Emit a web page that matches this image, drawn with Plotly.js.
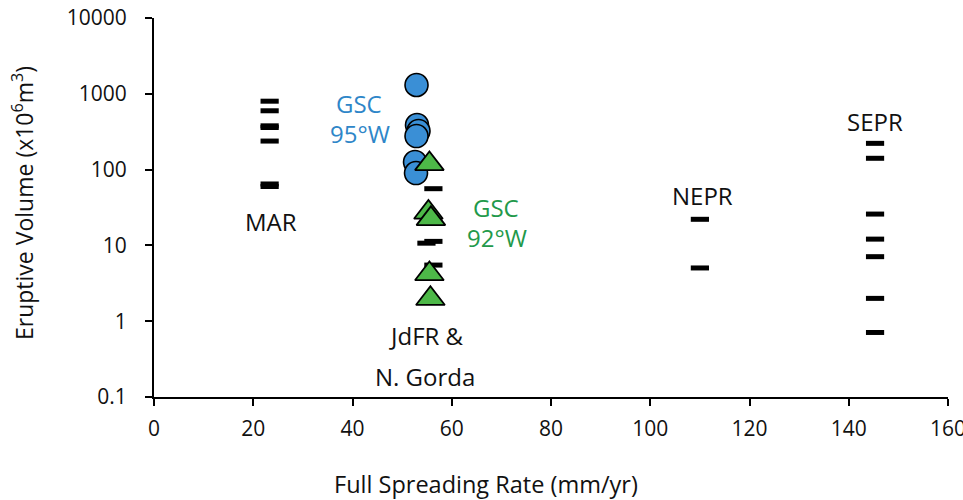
<!DOCTYPE html>
<html>
<head>
<meta charset="utf-8">
<script src="https://cdn.plot.ly/plotly-3.0.1.min.js"></script>
<style>html,body{margin:0;padding:0;background:#fff;}#chart{width:963px;height:500px;}</style>
</head>
<body>
<div id="chart"></div>
<script>
// Mid-Atlantic Ridge
var marX = [23.3, 23.3, 23.3, 23.3, 23.3, 23.3, 23.3];
var marY = [799, 597, 378, 359, 238, 64.6, 59.8];
// Juan de Fuca Ridge & N. Gorda
var jdfX = [56.3, 54.9, 56.3, 56.3];
var jdfY = [56, 10.7, 11.3, 5.5];
// Northern East Pacific Rise
var neprX = [110, 110];
var neprY = [22.1, 5.04];
// Southern East Pacific Rise
var seprX = [145.3, 145.3, 145.3, 145.3, 145.3, 145.3, 145.3];
var seprY = [222, 141, 25.9, 12.1, 7.1, 2.0, 0.71];
// Galapagos Spreading Center 95°W
var gsc95X = [52.9, 53.0, 53.3, 52.9, 52.6, 52.8];
var gsc95Y = [1306, 387, 323, 277, 126, 90];
// Galapagos Spreading Center 92°W
var gsc92X = [55.5, 55.3, 55.8, 55.5, 55.7];
var gsc92Y = [119, 27.2, 22.4, 4.2, 1.98];

var xTickVals = [0, 20, 40, 60, 80, 100, 120, 140, 160];
var yTickVals = [0.1, 1, 10, 100, 1000, 10000];
var yTickText = ['0.1', '1', '10', '100', '1000', '10000'];

var FONT = 'Open Sans, Noto Sans, sans-serif';
var dash = {symbol: 'line-ew', size: 13, color: '#000', line: {color: '#000', width: 5}};

var traces = [
  {x: marX, y: marY, name: 'MAR', mode: 'markers', type: 'scatter', marker: dash},
  {x: jdfX, y: jdfY, name: 'JdFR', mode: 'markers', type: 'scatter', marker: dash},
  {x: neprX, y: neprY, name: 'NEPR', mode: 'markers', type: 'scatter', marker: dash},
  {x: seprX, y: seprY, name: 'SEPR', mode: 'markers', type: 'scatter', marker: dash},
  {x: gsc95X, y: gsc95Y, name: 'GSC 95°W', mode: 'markers', type: 'scatter',
   marker: {symbol: 'circle', size: 23, color: '#3a8fd6', line: {color: '#000', width: 1.6}}},
  {x: gsc92X, y: gsc92Y, name: 'GSC 92°W', mode: 'markers', type: 'scatter',
   marker: {symbol: 'triangle-up', size: 25, color: '#4db848', line: {color: '#000', width: 1.8}}}
];

function lbl(text, x, y, color, size) {
  return {text: text, x: x, y: y, xref: 'paper', yref: 'paper', showarrow: false,
    xanchor: 'center', yanchor: 'middle', font: {family: FONT, size: size || 24, color: color || '#111'}};
}
// paper coords: plot spans px 154..948 (x) and 18..397 (y)
function px(xp) { return (xp - 154) / 794; }
function py(yp) { return (397 - yp) / 379; }

var ytitle = lbl('Eruptive Volume (x10<sup>6</sup>m<sup>3</sup>)', px(23), py(203), '#111', 23);
ytitle.textangle = -90;

var layout = {
  width: 963, height: 500,
  margin: {l: 154, r: 15, t: 18, b: 103},
  paper_bgcolor: '#fff', plot_bgcolor: '#fff',
  showlegend: false,
  font: {family: FONT, size: 21, color: '#111'},
  xaxis: {
    range: [0, 160], tickvals: xTickVals,
    showgrid: false, zeroline: false, showline: true, linewidth: 2, linecolor: '#000',
    ticks: 'outside', ticklen: 7, tickwidth: 2, tickcolor: '#000',
    ticklabelstandoff: 5, ticklabeloverflow: 'allow',
    tickfont: {family: FONT, size: 21, color: '#111'}
  },
  yaxis: {
    type: 'log', range: [-1, 4],
    tickvals: yTickVals, ticktext: yTickText,
    showgrid: false, zeroline: false, showline: true, linewidth: 2, linecolor: '#000',
    ticks: 'outside', ticklen: 7, tickwidth: 2, tickcolor: '#000',
    ticklabelstandoff: 14,
    tickfont: {family: FONT, size: 21, color: '#111'}
  },
  xaxis2: {
    overlaying: 'x', anchor: 'y', side: 'bottom', range: [0, 160], tickvals: xTickVals,
    showgrid: false, zeroline: false, showline: false, showticklabels: false,
    ticks: 'inside', ticklen: 3, tickwidth: 2, tickcolor: '#000'
  },
  yaxis2: {
    overlaying: 'y', anchor: 'x', side: 'left', type: 'log', range: [-1, 4], tickvals: yTickVals,
    showgrid: false, zeroline: false, showline: false, showticklabels: false,
    ticks: 'inside', ticklen: 3, tickwidth: 2, tickcolor: '#000'
  },
  annotations: [
    ytitle,
    lbl('Full Spreading Rate (mm/yr)', px(486), py(484), '#111', 23.5),
    lbl('MAR', px(271), py(221)),
    lbl('GSC', px(359), py(103.5), '#2e86c8'),
    lbl('95°W', px(360), py(133), '#2e86c8'),
    lbl('GSC', px(496), py(207), '#22994a'),
    lbl('92°W', px(497), py(237), '#22994a'),
    lbl('JdFR &amp;', px(426), py(335)),
    lbl('N. Gorda', px(425), py(376)),
    lbl('NEPR', px(702), py(195)),
    lbl('SEPR', px(875), py(121.5))
  ]
};

Plotly.newPlot('chart', traces, layout, {displayModeBar: false, staticPlot: true});
</script>
</body>
</html>
